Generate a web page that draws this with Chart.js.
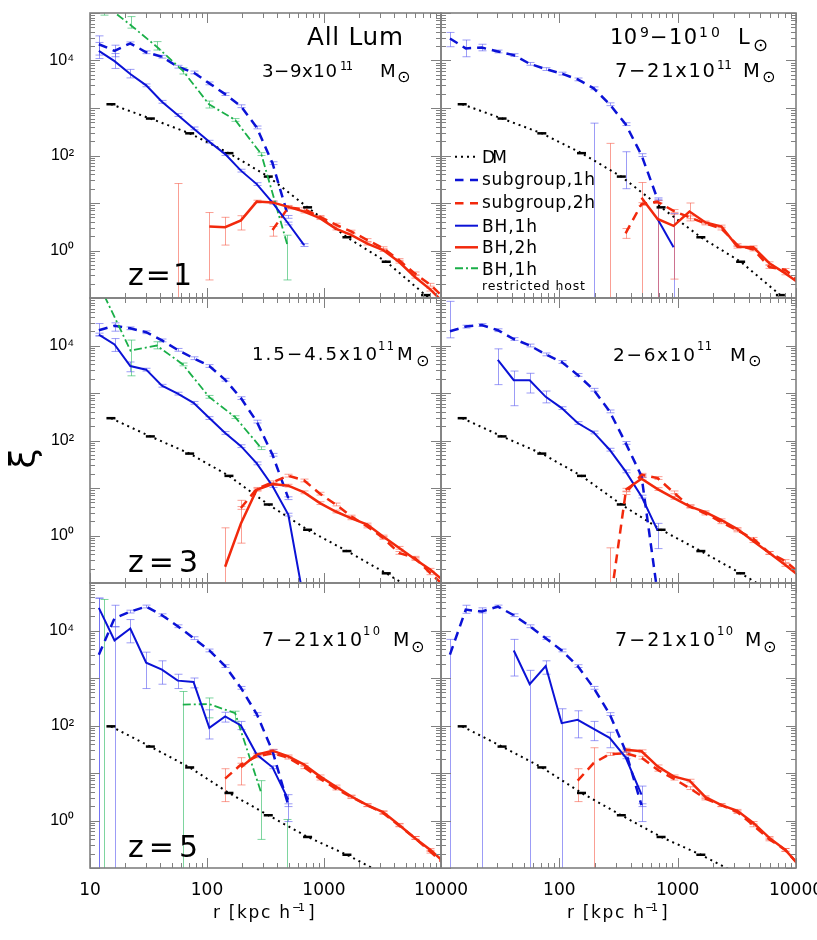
<!DOCTYPE html>
<html>
<head>
<meta charset="utf-8">
<title>xi(r) - BH and subgroup clustering</title>
<script src="https://cdn.jsdelivr.net/npm/chart.js@4.4.1/dist/chart.umd.min.js"></script>
<style>
  body { margin: 0; background: #fff; }
  #wrap { position: relative; width: 817px; height: 940px; overflow: hidden; }
  #wrap canvas { position: absolute; left: 0; top: 0; }
  #labels { position: absolute; left: 0; top: 0; z-index: 2; font-family: "DejaVu Sans", sans-serif; }
</style>
</head>
<body>
<div id="wrap">
<svg id="labels" width="817" height="940" xmlns="http://www.w3.org/2000/svg">
  <!-- panel annotations -->
  <g fill="#000">
    <text x="307" y="45" font-size="24.7" textLength="96" lengthAdjust="spacing">All Lum</text>
    <text x="262" y="77" font-size="18.2" textLength="75" lengthAdjust="spacing">3−9x10</text>
    <text x="340" y="70" font-size="11.5" textLength="13" lengthAdjust="spacing">11</text>
    <text x="380" y="77" font-size="18.2">M</text>
    <text x="397" y="82" font-size="16">⊙</text>
    <text x="128" y="285" font-size="30" textLength="64" lengthAdjust="spacing">z=1</text>

    <text x="610" y="44.3" font-size="21" textLength="27" lengthAdjust="spacing">10</text>
    <text x="640" y="36.7" font-size="14">9</text>
    <text x="650" y="44.3" font-size="21" textLength="47" lengthAdjust="spacing">−10</text>
    <text x="699" y="36.7" font-size="14" textLength="21" lengthAdjust="spacing">10</text>
    <text x="738" y="44.3" font-size="21">L</text>
    <text x="753" y="51" font-size="18">⊙</text>
    <text x="615" y="77.3" font-size="19.5" textLength="100" lengthAdjust="spacing">7−21x10</text>
    <text x="717" y="69" font-size="12" textLength="15" lengthAdjust="spacing">11</text>
    <text x="743" y="77.3" font-size="19.5">M</text>
    <text x="762" y="82" font-size="16">⊙</text>

    <text x="252" y="360" font-size="18.2" textLength="125" lengthAdjust="spacing">1.5−4.5x10</text>
    <text x="378" y="350" font-size="11.5" textLength="16" lengthAdjust="spacing">11</text>
    <text x="397" y="360" font-size="18.2">M</text>
    <text x="416" y="366" font-size="16">⊙</text>
    <text x="128" y="571.7" font-size="30" textLength="70" lengthAdjust="spacing">z=3</text>

    <text x="613" y="360.7" font-size="18.5" textLength="82" lengthAdjust="spacing">2−6x10</text>
    <text x="697" y="350" font-size="11.5" textLength="15" lengthAdjust="spacing">11</text>
    <text x="730" y="360.7" font-size="18.5">M</text>
    <text x="748" y="366" font-size="16">⊙</text>

    <text x="262" y="645.7" font-size="19" textLength="100" lengthAdjust="spacing">7−21x10</text>
    <text x="363" y="635" font-size="11.5" textLength="17" lengthAdjust="spacing">10</text>
    <text x="393" y="645.7" font-size="19">M</text>
    <text x="411" y="652" font-size="16">⊙</text>
    <text x="128" y="856.7" font-size="30" textLength="70" lengthAdjust="spacing">z=5</text>

    <text x="615" y="645.7" font-size="19" textLength="100" lengthAdjust="spacing">7−21x10</text>
    <text x="717" y="635" font-size="11.5" textLength="16" lengthAdjust="spacing">10</text>
    <text x="745" y="645.7" font-size="19">M</text>
    <text x="763" y="652" font-size="16">⊙</text>
  </g>

  <!-- legend (top right panel) -->
  <g fill="none" stroke-linecap="butt">
    <line x1="455" y1="156.7" x2="478" y2="156.7" stroke="#000" stroke-width="2" stroke-dasharray="2 4"/>
    <line x1="455" y1="180" x2="478" y2="180" stroke="#0b12d6" stroke-width="2.5" stroke-dasharray="8.5 6.5"/>
    <line x1="455" y1="203.3" x2="478" y2="203.3" stroke="#f2290c" stroke-width="2.5" stroke-dasharray="8.5 6.5"/>
    <line x1="455" y1="225.7" x2="478" y2="225.7" stroke="#0b12d6" stroke-width="2"/>
    <line x1="455" y1="247.3" x2="478" y2="247.3" stroke="#f2290c" stroke-width="2.5"/>
    <line x1="455" y1="268.3" x2="478" y2="268.3" stroke="#1aaf48" stroke-width="2" stroke-dasharray="8 3 2 3"/>
  </g>
  <g fill="#000" font-size="17">
    <text x="482" y="163.3" textLength="25" lengthAdjust="spacing">DM</text>
    <text x="482" y="185" textLength="113" lengthAdjust="spacing">subgroup,1h</text>
    <text x="482" y="208.3" textLength="113" lengthAdjust="spacing">subgroup,2h</text>
    <text x="482" y="231.7" textLength="55" lengthAdjust="spacing">BH,1h</text>
    <text x="482" y="253.3" textLength="55" lengthAdjust="spacing">BH,2h</text>
    <text x="482" y="275" textLength="55" lengthAdjust="spacing">BH,1h</text>
    <text x="482" y="290" font-size="12.5" textLength="103" lengthAdjust="spacing">restricted host</text>
  </g>

  <!-- axis titles -->
  <g fill="#000">
    <text transform="translate(35,458.5) rotate(-90)" text-anchor="middle" font-size="36">ξ</text>
    <text x="213" y="918.3" font-size="17" textLength="77" lengthAdjust="spacing">r [kpc h</text>
    <text x="292" y="911" font-size="11" textLength="13" lengthAdjust="spacing">−1</text>
    <text x="308" y="918.3" font-size="17">]</text>
    <text x="567" y="918.3" font-size="17" textLength="77" lengthAdjust="spacing">r [kpc h</text>
    <text x="645" y="911" font-size="11" textLength="13" lengthAdjust="spacing">−1</text>
    <text x="661" y="918.3" font-size="17">]</text>
  </g>
</svg>
</div>

<script>
// radial bins, kpc/h
const R_BIN = [11.9, 16.2, 22.1, 30.2, 41.2, 56.2, 76.7, 104.7, 142.9, 195, 266, 363, 495, 676, 923, 1259, 1718, 2344, 3199, 4365, 5957, 8128, 11092];
const R_DM = [15.1, 32.8, 71.1, 154, 334, 724, 1570, 3404, 7379, 16000];
const R_HOST = [13.3, 22.2, 37.2, 62.1, 104, 174, 291, 487];

// dark matter, one per redshift
const DM_Z1 = [1200, 600, 293, 112, 36, 8.1, 1.9, 0.58, 0.115, 0.025];
const DM_Z3 = [295, 122, 53, 18, 4.5, 1.32, 0.47, 0.16, 0.05, 0.015];
const DM_Z5 = [96, 36, 13.1, 3.8, 1.29, 0.45, 0.19, 0.07, 0.022, 0.007];

// z=1, all luminosities
const P1_SUB1H = [2.2e4, 1.6e4, 2.3e4, 1.49e4, 1.2e4, 7400, 5600, 3300, 1960, 1090, 390, 69, 5.1];
const P1_BH1H = [1.6e4, 9700, 5200, 3000, 1350, 710, 372, 195, 107, 48, 25, 10.2, 3.7, 1.3];
const P1_SUB2H = [null, null, null, null, null, null, null, null, null, null, null, 2.7, 8.0, 7.4, 5.1, 3.5, 2.5, 1.66, 1.12, 0.63, 0.33, 0.19, 0.09];
const P1_BH2H = [null, null, null, null, null, null, null, 3.2, 3.1, 4.3, 10.7, 10.3, 8.3, 6.6, 4.8, 2.9, 2.1, 1.4, 1.02, 0.58, 0.28, 0.15, 0.07];
const P1_HOST = [1.5e5, 5.6e4, 1.95e4, 6100, 1200, 560, 107, 1.3];
const P1_BARS = [
    ['sub1h', 0, 1.3e4, 3.3e4], ['sub1h', 1, 1.2e4, 2.1e4],
    ['bh1h', 0, 1.1e4, 2.4e4], ['bh1h', 1, 6800, 1.4e4], ['bh1h', 2, 4300, 6500],
    ['host', 0, 9e4, 3e5], ['host', 1, 4.8e4, 8.4e4], ['host', 2, 1.66e4, 2.5e4], ['host', 3, 5200, 7000],
    ['host', 4, 1000, 1400], ['host', 7, 0.24, 2.1],
    ['bh2h', 5, 1e-3, 25.7], ['bh2h', 7, 0.24, 6.3], ['bh2h', 8, 1.3, 5.0], ['bh2h', 9, 2.7, 5.4],
    ['sub2h', 11, 2.0, 3.2]
];

// z=1, 1e9-1e10 Lsun
const P2_SUB1H = [2.9e4, 1.8e4, 1.87e4, 1.55e4, 1.3e4, 8500, 6600, 5300, 4000, 2600, 1200, 457, 102, 12];
const P2_BH1H = [null, null, null, null, null, null, null, null, null, null, null, null, null, 4.6, 1.17];
const P2_SUB2H = [null, null, null, null, null, null, null, null, null, null, null, 2.3, 9.5, 10.6, 6.8, 5.0, 3.7, 2.9, 1.3, 1.05, 0.45, 0.39, 0.2];
const P2_BH2H = [null, null, null, null, null, null, null, null, null, null, null, null, 12.9, 4.6, 3.3, 6.6, 3.9, 3.2, 1.2, 1.17, 0.54, 0.33, 0.19];
const P2_BARS = [
    ['sub1h', 0, 1.95e4, 3.9e4], ['sub1h', 1, 1.2e4, 2.7e4], ['sub1h', 2, 1.6e4, 2.2e4],
    ['bh1h', 9, 1e-3, 480], ['bh1h', 11, 20, 120], ['bh1h', 13, 1e-3, 12], ['bh1h', 14, 1e-3, 6],
    ['bh2h', 10, 1e-3, 180], ['bh2h', 12, 1e-3, 27], ['bh2h', 13, 1e-3, 10], ['bh2h', 14, 0.25, 5.8], ['bh2h', 15, 4.2, 10],
    ['sub2h', 11, 1.8, 2.9]
];

// z=3, all luminosities
const P3_SUB1H = [2.1e4, 2.6e4, 2.3e4, 1.9e4, 1.28e4, 8100, 5400, 3700, 1900, 780, 250, 50, 6.1];
const P3_BH1H = [1.7e4, 1.05e4, 3700, 3100, 1420, 970, 620, 297, 144, 76, 33, 11, 2.75, 0.04];
const P3_SUB2H = [null, null, null, null, null, null, null, null, null, 3.8, 9.6, 13.2, 18.2, 14.4, 7.6, 4.5, 2.5, 1.55, 0.89, 0.43, 0.34, 0.16, 0.08];
const P3_BH2H = [null, null, null, null, null, null, null, null, 0.22, 1.8, 9.2, 12.1, 11.2, 8.1, 4.8, 3.2, 2.3, 1.7, 0.95, 0.55, 0.32, 0.19, 0.1];
const P3_HOST = [1.1e5, 7800, 1.0e4, 4000, 830, 310, 69];
const P3_BARS = [
    ['sub1h', 0, 1.6e4, 2.9e4], ['sub1h', 1, 2.0e4, 3.0e4],
    ['bh1h', 1, 7500, 1.4e4], ['bh1h', 2, 2800, 4500],
    ['host', 1, 2300, 1.3e4], ['host', 2, 8500, 1.2e4],
    ['bh2h', 8, 1e-3, 1.45], ['bh2h', 9, 0.69, 5.5]
];

// z=3, 1e9-1e10 Lsun
const P4_SUB1H = [2.0e4, 2.5e4, 2.7e4, 2.1e4, 1.37e4, 1.0e4, 6500, 4500, 2400, 1170, 410, 89, 17.7, 0.06];
const P4_BH1H = [null, null, null, 5000, 1860, 1860, 830, 480, 233, 148, 64, 22.4, 6.6, 1.28];
const P4_SUB2H = [null, null, null, null, null, null, null, null, null, null, 0.03, 7.8, 19, 16.2, 8.1, 4.1, 2.9, 1.9, 1.28, 0.85, 0.43, 0.29, 0.15];
const P4_BH2H = [null, null, null, null, null, null, null, null, null, null, null, 9.2, 15.7, 9.5, 6.2, 4.1, 3.1, 2.1, 1.37, 0.76, 0.43, 0.24, 0.13];
const P4_BARS = [
    ['sub1h', 0, 1.45e4, 8.5e4],
    ['bh1h', 3, 1500, 8500], ['bh1h', 4, 540, 2900], ['bh1h', 5, 1000, 2600], ['bh1h', 6, 620, 1100], ['bh1h', 13, 0.53, 1.8],
    ['sub2h', 10, 1e-3, 0.55]
];

// z=5, all luminosities
const P5_SUB1H = [3100, 1.8e4, 2.5e4, 3.2e4, 2.1e4, 1.23e4, 6900, 3800, 1780, 620, 174, 29, 2.1];
const P5_BH1H = [3.0e4, 6200, 1.1e4, 2100, 1500, 880, 825, 89, 155, 100, 24.4, 13.2, 2.75];
const P5_SUB2H = [null, null, null, null, null, null, null, null, 7.6, 15, 22.4, 26, 21, 13.2, 7.6, 4.7, 3.1, 2.1, 1.44, 0.79, 0.43, 0.22, 0.11];
const P5_BH2H = [null, null, null, null, null, null, null, null, null, 13.2, 24.4, 29.5, 22.4, 15, 8.5, 5.2, 3.2, 2.1, 1.5, 0.81, 0.43, 0.24, 0.12];
const P5_HOST = [null, null, null, 275, 283, 182, 3.8];
const P5_BARS = [
    ['sub1h', 0, 1e-3, 4.8e4], ['sub1h', 1, 1.2e4, 3.4e4],
    ['bh1h', 0, 1e-3, 4.8e4], ['bh1h', 1, 1e-3, 1.2e4], ['bh1h', 2, 5500, 1.7e4], ['bh1h', 3, 600, 3500],
    ['bh1h', 4, 740, 2300], ['bh1h', 5, 600, 1200], ['bh1h', 6, 620, 1000], ['bh1h', 7, 52, 214],
    ['bh1h', 8, 118, 190], ['bh1h', 9, 82, 122], ['bh1h', 12, 0.95, 3.5],
    ['host', 0, 1e-3, 4.5e4], ['host', 3, 1e-3, 520], ['host', 4, 145, 380], ['host', 5, 123, 200],
    ['host', 6, 0.4, 6.9], ['host', 7, 1e-3, 1.05],
    ['bh2h', 9, 5.6, 21], ['sub2h', 8, 2.5, 12.3]
];

// z=5, 1e9-1e10 Lsun
const P6_SUB1H = [3100, 2.75e4, 2.5e4, 3.2e4, 2.1e4, 1.23e4, 6900, 3800, 1780, 620, 174, 29, 2.1];
const P6_BH1H = [null, null, null, null, 3800, 740, 1780, 112, 132, 85, 55, 21.4, 3.5];
const P6_SUB2H = [null, null, null, null, null, null, null, null, 6.9, 16.2, 25, 26, 21, 11.7, 7.6, 4.8, 2.9, 2.1, 1.5, 0.79, 0.40, 0.24, 0.1];
const P6_BH2H = [null, null, null, null, null, null, null, null, null, null, null, 31, 28.7, 13.8, 8.5, 6.9, 3.1, 2.1, 1.6, 0.89, 0.43, 0.24, 0.1];
const P6_BARS = [
    ['sub1h', 0, 1e-3, 6500], ['sub1h', 1, 2.3e4, 3.4e4],
    ['bh1h', 2, 1e-3, 3.0e4], ['bh1h', 4, 1100, 6500], ['bh1h', 5, 1e-3, 1450], ['bh1h', 6, 1200, 2300],
    ['bh1h', 7, 1e-3, 225], ['bh1h', 8, 55, 204], ['bh1h', 9, 48, 122], ['bh1h', 10, 34, 72], ['bh1h', 12, 0.95, 5.3],
    ['sub2h', 8, 2.5, 12.3], ['sub2h', 9, 1e-3, 34]
];

// small default error bar (multiplicative) where none is listed
const ERR_FACTOR = 1.07;

const BLUE = '#0b12d6';
const RED = '#f2290c';
const GREEN = '#1aaf48';

const STYLE = {
    dm:    { color: '#000', width: 2,   dash: [2, 4],       bar: null,                    order: 6 },
    sub1h: { color: BLUE,   width: 2.5, dash: [9, 6],       bar: 'rgba(90,90,240,0.6)',   order: 5 },
    sub2h: { color: RED,    width: 2.5, dash: [9, 6],       bar: 'rgba(245,80,60,0.55)',  order: 4 },
    host:  { color: GREEN,  width: 1.8, dash: [8, 3, 2, 3], bar: 'rgba(40,185,95,0.6)',   order: 3 },
    bh1h:  { color: BLUE,   width: 2,   dash: [],           bar: 'rgba(90,90,240,0.6)',   order: 2 },
    bh2h:  { color: RED,    width: 2.5, dash: [],           bar: 'rgba(245,80,60,0.55)',  order: 1 }
};

// panel frames in page pixels
const COLS = [{ l: 90, r: 441 }, { l: 441, r: 796 }];
const ROWS = [{ t: 13, b: 298 }, { t: 298, b: 583 }, { t: 583, b: 868 }];

const PANELS = [
    { row: 0, col: 0, dm: DM_Z1, sub1h: P1_SUB1H, sub2h: P1_SUB2H, bh1h: P1_BH1H, bh2h: P1_BH2H, host: P1_HOST, bars: P1_BARS },
    { row: 0, col: 1, dm: DM_Z1, sub1h: P2_SUB1H, sub2h: P2_SUB2H, bh1h: P2_BH1H, bh2h: P2_BH2H, host: [], bars: P2_BARS },
    { row: 1, col: 0, dm: DM_Z3, sub1h: P3_SUB1H, sub2h: P3_SUB2H, bh1h: P3_BH1H, bh2h: P3_BH2H, host: P3_HOST, bars: P3_BARS },
    { row: 1, col: 1, dm: DM_Z3, sub1h: P4_SUB1H, sub2h: P4_SUB2H, bh1h: P4_BH1H, bh2h: P4_BH2H, host: [], bars: P4_BARS },
    { row: 2, col: 0, dm: DM_Z5, sub1h: P5_SUB1H, sub2h: P5_SUB2H, bh1h: P5_BH1H, bh2h: P5_BH2H, host: P5_HOST, bars: P5_BARS },
    { row: 2, col: 1, dm: DM_Z5, sub1h: P6_SUB1H, sub2h: P6_SUB2H, bh1h: P6_BH1H, bh2h: P6_BH2H, host: [], bars: P6_BARS }
];

// vertical error bars with caps, drawn under the lines
const errorBarPlugin = {
    id: 'errorBars',
    beforeDatasetsDraw(chart) {
        const { ctx, chartArea: a, scales: { x, y } } = chart;
        ctx.save();
        ctx.beginPath();
        ctx.rect(a.left, a.top, a.right - a.left, a.bottom - a.top);
        ctx.clip();
        ctx.lineWidth = 1;
        chart.data.datasets.forEach(ds => {
            if (!ds.bars) return;
            ctx.strokeStyle = ds.barColor;
            ctx.beginPath();
            ds.bars.forEach(([r, lo, hi]) => {
                const px = Math.round(x.getPixelForValue(r)) + 0.5;
                const y1 = y.getPixelForValue(lo);
                const y2 = y.getPixelForValue(hi);
                ctx.moveTo(px, y1); ctx.lineTo(px, y2);
                ctx.moveTo(px - 4, y1); ctx.lineTo(px + 4, y1);
                ctx.moveTo(px - 4, y2); ctx.lineTo(px + 4, y2);
            });
            ctx.stroke();
        });
        ctx.restore();
    }
};

// IDL-style box with inward ticks on all four sides
const framePlugin = {
    id: 'frame',
    afterDatasetsDraw(chart) {
        const { ctx, chartArea: a, scales: { x, y } } = chart;
        ctx.save();
        ctx.strokeStyle = '#808080';
        ctx.lineWidth = 1;
        ctx.beginPath();
        for (let e = 1; e <= 4; e++) {
            for (let m = 1; m <= 9; m++) {
                const v = m * Math.pow(10, e);
                if (v > 10000) break;
                const px = Math.round(x.getPixelForValue(v)) + 0.5;
                const len = m === 1 ? 10 : 5;
                ctx.moveTo(px, a.bottom); ctx.lineTo(px, a.bottom - len);
                ctx.moveTo(px, a.top); ctx.lineTo(px, a.top + len);
            }
        }
        for (let e = -1; e <= 5; e++) {
            for (let m = 1; m <= 9; m++) {
                const v = m * Math.pow(10, e);
                if (v > 1e5) break;
                const py = Math.round(y.getPixelForValue(v)) + 0.5;
                const len = m === 1 ? 10 : 5;
                ctx.moveTo(a.left, py); ctx.lineTo(a.left + len, py);
                ctx.moveTo(a.right, py); ctx.lineTo(a.right - len, py);
            }
        }
        ctx.stroke();
        ctx.lineWidth = 1.6;
        ctx.strokeRect(a.left, a.top, a.right - a.left, a.bottom - a.top);
        ctx.restore();
    }
};

const SUPER = { 0: '10\u2070', 2: '10\u00b2', 4: '10\u2074' };

function isDecade(v) {
    const e = Math.log10(v);
    return Math.abs(e - Math.round(e)) < 1e-6;
}

function makeChart(p) {
    const wrap = document.getElementById('wrap');
    const canvas = document.createElement('canvas');
    canvas.width = 817;
    canvas.height = 940;
    wrap.insertBefore(canvas, document.getElementById('labels'));

    const col = COLS[p.col];
    const row = ROWS[p.row];
    const isLeft = p.col === 0;
    const isBottom = p.row === 2;

    const datasets = [];
    ['dm', 'sub1h', 'sub2h', 'host', 'bh1h', 'bh2h'].forEach(key => {
        const vals = p[key];
        if (!vals || !vals.length) return;
        const rs = key === 'dm' ? R_DM : (key === 'host' ? R_HOST : R_BIN);
        const st = STYLE[key];
        const ds = {
            label: key,
            data: vals.map((v, i) => ({ x: rs[i], y: v })),
            borderColor: st.color,
            borderWidth: st.width,
            borderDash: st.dash,
            borderCapStyle: 'butt',
            pointRadius: 0,
            tension: 0,
            spanGaps: false,
            fill: false,
            order: st.order
        };
        if (key === 'dm') {
            ds.pointStyle = 'line';
            ds.pointRadius = 4.5;
            ds.pointBorderWidth = 2.5;
            ds.pointBorderColor = '#000';
            ds.pointBackgroundColor = '#000';
        } else {
            const listed = p.bars.filter(b => b[0] === key);
            const bars = listed.map(b => [rs[b[1]], b[2], b[3]]);
            vals.forEach((v, i) => {
                if (v === null || listed.some(b => b[1] === i)) return;
                bars.push([rs[i], v / ERR_FACTOR, v * ERR_FACTOR]);
            });
            ds.bars = bars;
            ds.barColor = st.bar;
        }
        datasets.push(ds);
    });

    new Chart(canvas, {
        type: 'line',
        data: { datasets },
        options: {
            responsive: false,
            animation: false,
            events: [],
            layout: {
                padding: {
                    left: isLeft ? 0 : col.l,
                    right: 817 - col.r,
                    top: row.t,
                    bottom: isBottom ? 0 : 940 - row.b
                }
            },
            plugins: { legend: { display: false }, tooltip: { enabled: false } },
            scales: {
                x: {
                    type: 'logarithmic',
                    position: 'bottom',
                    min: 10,
                    max: 10000,
                    grid: { display: false, drawTicks: false },
                    border: { display: false },
                    ticks: {
                        display: isBottom,
                        autoSkip: false,
                        maxRotation: 0,
                        padding: 12,
                        color: '#000',
                        font: { family: 'DejaVu Sans', size: 17 },
                        callback: v => {
                            if (!isDecade(v)) return '';
                            if (!isLeft && v < 50) return '';
                            return String(Math.round(v));
                        }
                    },
                    afterFit: s => {
                        s.height = isBottom ? 940 - row.b : 0;
                        s.paddingLeft = 0;
                        s.paddingRight = 0;
                    }
                },
                y: {
                    type: 'logarithmic',
                    position: 'left',
                    min: 0.1,
                    max: 1e5,
                    grid: { display: false, drawTicks: false },
                    border: { display: false },
                    ticks: {
                        display: isLeft,
                        autoSkip: false,
                        padding: 16,
                        color: '#000',
                        font: { family: 'Liberation Sans', size: 16 },
                        callback: v => {
                            if (!isDecade(v)) return '';
                            return SUPER[Math.round(Math.log10(v))] || '';
                        }
                    },
                    afterFit: s => {
                        s.width = isLeft ? col.l : 0;
                        s.paddingTop = 0;
                        s.paddingBottom = 0;
                    }
                }
            }
        },
        plugins: [errorBarPlugin, framePlugin]
    });
}

PANELS.forEach(makeChart);
</script>
</body>
</html>
